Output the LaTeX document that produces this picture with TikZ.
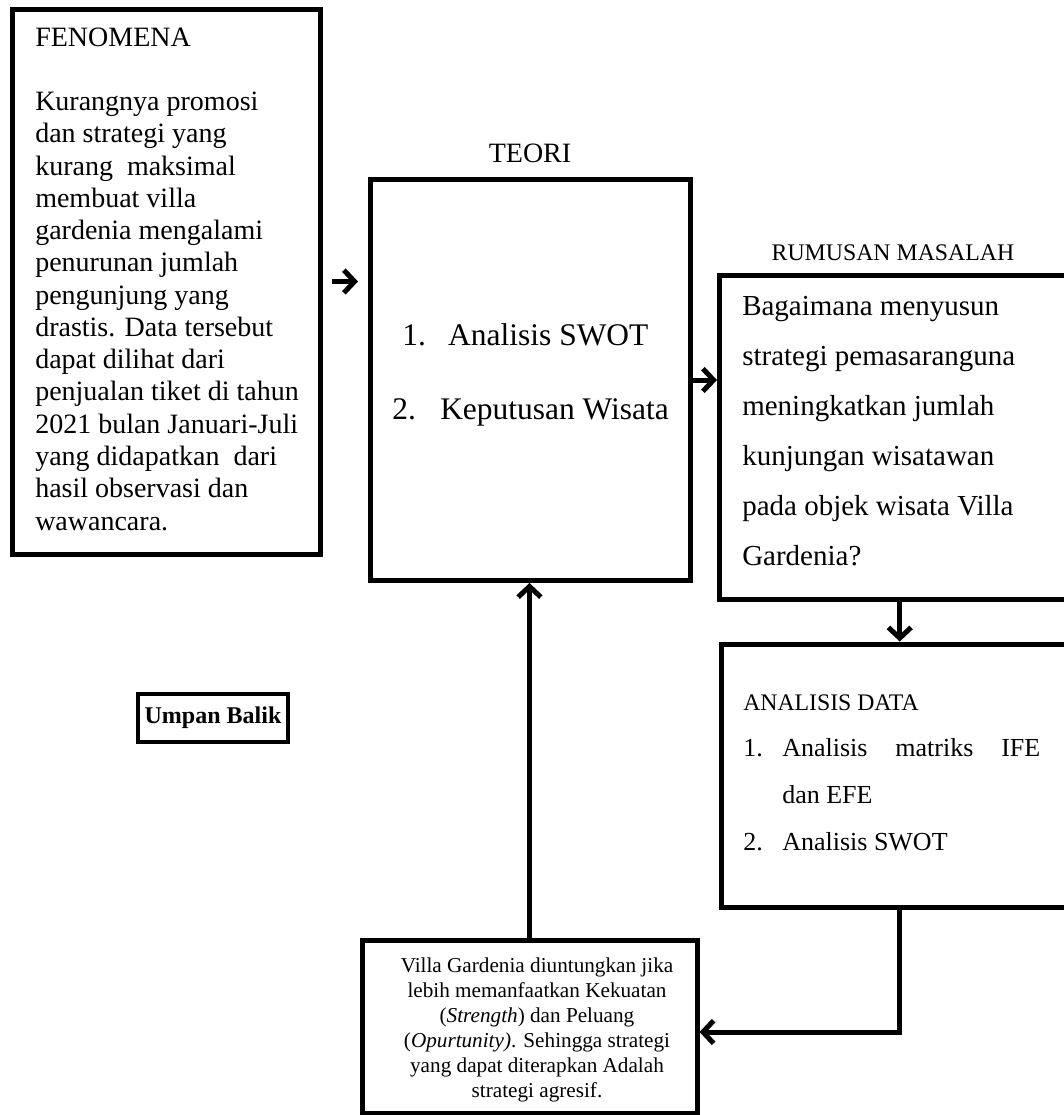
\documentclass[tikz,border=0pt]{standalone}
\usepackage{fontspec}
\setmainfont{Liberation Serif}
\usetikzlibrary{arrows.meta,calc}

\begin{document}
\begin{tikzpicture}[x=0.75pt,y=0.75pt,yscale=-1,xscale=1,
  box/.style={draw, line width=3.75pt, inner sep=0pt},
  arr/.style={line width=3.75pt, -{Straight Barb[length=8pt,width=17pt]}},
  txt/.style={inner sep=0pt, align=left}]
\useasboundingbox (0,0) rectangle (1064,1115);
\clip (0,0) rectangle (1064,1115);
% boxes
\node (fen) [box, minimum width=231pt, minimum height=408.75pt] at (166.5,281.5) {};
\node (teori) [box, minimum width=240pt, minimum height=300.75pt] at (530.5,380) {};
\node (rumus) [box, minimum width=270.4pt, minimum height=243pt] at (899.75,437.5) {};
\node (anls) [box, minimum width=269.25pt, minimum height=197.6pt] at (900.5,775.75) {};
\node (hasil) [box, minimum width=251.25pt, minimum height=129.75pt] at (529.5,1026.5) {};
\node (umpan) [box, line width=3pt, minimum width=112.5pt, minimum height=36pt, font=\fontsize{18}{20}\selectfont\bfseries] at (213,718) {Umpan Balik};
% texts (base = last line)
\node (fentxt) [txt, anchor=base west, font=\fontsize{21}{24.2}\selectfont] at (35,530) {FENOMENA\\[24.2pt]Kurangnya promosi\\dan strategi yang\\kurang\ \ maksimal\\membuat villa\\gardenia mengalami\\penurunan jumlah\\pengunjung yang\\drastis. Data tersebut\\dapat dilihat dari\\penjualan tiket di tahun\\2021 bulan Januari-Juli\\yang didapatkan\ \ dari\\hasil observasi dan\\wawancara.};
\node (teorilbl) [txt, anchor=base, font=\fontsize{21}{24}\selectfont] at (530,162) {TEORI};
\node (teoritxt) [txt, anchor=base west, font=\fontsize{23.6}{55.5}\selectfont] at (392,419) {\hspace*{7.5pt}1.\hspace{16.8pt}Analisis SWOT\\2.\hspace{18.3pt}Keputusan Wisata};
\node (rumuslbl) [txt, anchor=base, font=\fontsize{17.85}{20}\selectfont] at (893,260) {RUMUSAN MASALAH};
\node (rumustxt) [txt, anchor=base west, font=\fontsize{21.75}{37.5}\selectfont] at (742,565) {Bagaimana menyusun\\strategi pemasaranguna\\meningkatkan jumlah\\kunjungan wisatawan\\pada objek wisata Villa\\Gardenia?};
\node (anlslbl) [txt, anchor=base west, font=\fontsize{17.8}{20}\selectfont] at (743,710) {ANALISIS DATA};
\node (anlstxt) [txt, anchor=base west, font=\fontsize{19.5}{35}\selectfont] at (743,850) {\makebox[29.25pt][l]{1.}\makebox[193.5pt][s]{Analisis\hfill matriks\hfill IFE}\\\hspace*{29.25pt}dan EFE\\\makebox[29.25pt][l]{2.}Analisis SWOT};
\node (hasiltxt) [txt, align=center, anchor=base, font=\fontsize{15.9}{18.75}\selectfont] at (537,1097) {Villa Gardenia diuntungkan jika\\lebih memanfaatkan Kekuatan\\(\textit{Strength}) dan Peluang\\(\textit{Opurtunity)}. Sehingga strategi\\yang dapat diterapkan Adalah\\strategi agresif.};
% connectors
\draw [arr] ($(fen.east)+(9,0)$) -- ($(teori.west |- fen.east)+(-10,0)$);
\draw [arr] (teori.east) -- (rumus.west |- teori.east);
\draw [arr] (rumus.south) -- (rumus.south |- anls.north);
\coordinate (hin) at ($(hasil.east)+(0,5.5)$);
\draw [arr] (rumus.south |- anls.south) |- (hin);
\draw [arr] (hasil.north) -- (hasil.north |- teori.south);
\end{tikzpicture}
\end{document}
